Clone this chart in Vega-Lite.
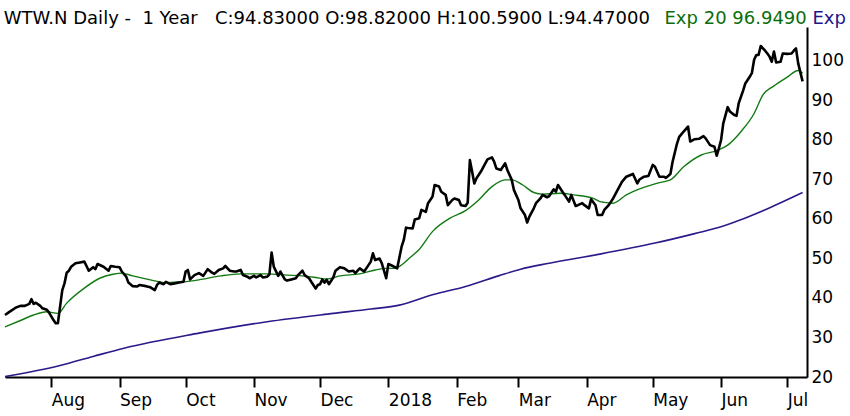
{
  "$schema": "https://vega.github.io/schema/vega-lite/v6.json",
  "autosize": "none",
  "width": 802,
  "height": 350,
  "padding": {"left": 5, "top": 27, "right": 43, "bottom": 39},
  "background": "white",
  "title": {
    "text": "WTW.N Daily -\u00a0\u00a01 Year\u00a0\u00a0\u00a0C:94.83000 O:98.82000 H:100.5900 L:94.47000",
    "anchor": "start",
    "offset": 0,
    "font": "DejaVu Sans",
    "fontSize": 18,
    "fontWeight": "normal",
    "color": "black",
    "dx": 2,
    "dy": 19
  },
  "config": {
    "view": {"stroke": null},
    "axis": {"labelFont": "DejaVu Sans", "titleFont": "DejaVu Sans"}
  },
  "datasets": {
    "close": [
      {"d": "2017-07-11", "v": 35.7}, {"d": "2017-07-13", "v": 36.5}, {"d": "2017-07-16", "v": 37.6}, {"d": "2017-07-18", "v": 38.0},
      {"d": "2017-07-20", "v": 38.0}, {"d": "2017-07-22", "v": 38.5}, {"d": "2017-07-23", "v": 39.7}, {"d": "2017-07-24", "v": 38.5},
      {"d": "2017-07-25", "v": 38.8}, {"d": "2017-07-27", "v": 38.0}, {"d": "2017-07-28", "v": 37.4}, {"d": "2017-07-30", "v": 37.0},
      {"d": "2017-07-31", "v": 36.3}, {"d": "2017-08-02", "v": 34.4}, {"d": "2017-08-03", "v": 33.6}, {"d": "2017-08-04", "v": 33.6},
      {"d": "2017-08-05", "v": 37.8}, {"d": "2017-08-06", "v": 42.0}, {"d": "2017-08-07", "v": 43.7}, {"d": "2017-08-08", "v": 46.4},
      {"d": "2017-08-09", "v": 46.9}, {"d": "2017-08-10", "v": 47.9}, {"d": "2017-08-12", "v": 48.8}, {"d": "2017-08-14", "v": 49.0},
      {"d": "2017-08-16", "v": 49.2}, {"d": "2017-08-17", "v": 48.1}, {"d": "2017-08-18", "v": 46.9}, {"d": "2017-08-20", "v": 47.8},
      {"d": "2017-08-21", "v": 47.3}, {"d": "2017-08-22", "v": 48.6}, {"d": "2017-08-24", "v": 48.1}, {"d": "2017-08-25", "v": 47.8},
      {"d": "2017-08-27", "v": 46.9}, {"d": "2017-08-28", "v": 48.1}, {"d": "2017-08-30", "v": 47.9}, {"d": "2017-09-01", "v": 47.8},
      {"d": "2017-09-02", "v": 46.7}, {"d": "2017-09-04", "v": 45.4}, {"d": "2017-09-05", "v": 43.9}, {"d": "2017-09-07", "v": 43.0},
      {"d": "2017-09-09", "v": 42.9}, {"d": "2017-09-10", "v": 43.3}, {"d": "2017-09-13", "v": 43.0}, {"d": "2017-09-15", "v": 42.7},
      {"d": "2017-09-17", "v": 42.0}, {"d": "2017-09-18", "v": 43.3}, {"d": "2017-09-19", "v": 43.9}, {"d": "2017-09-21", "v": 43.5},
      {"d": "2017-09-22", "v": 44.1}, {"d": "2017-09-24", "v": 43.5}, {"d": "2017-09-26", "v": 43.7}, {"d": "2017-09-28", "v": 43.9},
      {"d": "2017-09-30", "v": 44.1}, {"d": "2017-10-01", "v": 46.7}, {"d": "2017-10-02", "v": 47.1}, {"d": "2017-10-03", "v": 44.7},
      {"d": "2017-10-05", "v": 45.8}, {"d": "2017-10-07", "v": 46.3}, {"d": "2017-10-09", "v": 45.6}, {"d": "2017-10-11", "v": 47.3},
      {"d": "2017-10-13", "v": 46.4}, {"d": "2017-10-14", "v": 46.1}, {"d": "2017-10-16", "v": 47.1}, {"d": "2017-10-18", "v": 47.5},
      {"d": "2017-10-19", "v": 48.1}, {"d": "2017-10-21", "v": 46.9}, {"d": "2017-10-23", "v": 46.7}, {"d": "2017-10-24", "v": 46.7},
      {"d": "2017-10-26", "v": 47.1}, {"d": "2017-10-27", "v": 45.8}, {"d": "2017-10-29", "v": 45.4}, {"d": "2017-10-30", "v": 45.0},
      {"d": "2017-11-01", "v": 45.6}, {"d": "2017-11-02", "v": 45.2}, {"d": "2017-11-04", "v": 45.8}, {"d": "2017-11-05", "v": 45.2},
      {"d": "2017-11-07", "v": 45.4}, {"d": "2017-11-08", "v": 46.0}, {"d": "2017-11-09", "v": 51.5}, {"d": "2017-11-10", "v": 47.9},
      {"d": "2017-11-12", "v": 45.6}, {"d": "2017-11-13", "v": 46.7}, {"d": "2017-11-15", "v": 44.7}, {"d": "2017-11-16", "v": 44.4},
      {"d": "2017-11-18", "v": 44.7}, {"d": "2017-11-20", "v": 45.0}, {"d": "2017-11-21", "v": 45.8}, {"d": "2017-11-23", "v": 46.9},
      {"d": "2017-11-24", "v": 45.8}, {"d": "2017-11-26", "v": 45.0}, {"d": "2017-11-27", "v": 44.1}, {"d": "2017-11-29", "v": 42.4},
      {"d": "2017-11-30", "v": 43.3}, {"d": "2017-12-01", "v": 43.5}, {"d": "2017-12-02", "v": 44.7}, {"d": "2017-12-03", "v": 43.9},
      {"d": "2017-12-04", "v": 44.6}, {"d": "2017-12-05", "v": 43.5}, {"d": "2017-12-07", "v": 45.2}, {"d": "2017-12-08", "v": 46.9},
      {"d": "2017-12-10", "v": 47.8}, {"d": "2017-12-12", "v": 47.5}, {"d": "2017-12-14", "v": 46.7}, {"d": "2017-12-16", "v": 46.9},
      {"d": "2017-12-17", "v": 46.3}, {"d": "2017-12-19", "v": 47.5}, {"d": "2017-12-21", "v": 46.7}, {"d": "2017-12-22", "v": 47.5},
      {"d": "2017-12-24", "v": 49.2}, {"d": "2017-12-25", "v": 51.3}, {"d": "2017-12-26", "v": 49.6}, {"d": "2017-12-28", "v": 50.0},
      {"d": "2017-12-29", "v": 48.8}, {"d": "2017-12-31", "v": 45.0}, {"d": "2018-01-01", "v": 48.6}, {"d": "2018-01-03", "v": 48.1},
      {"d": "2018-01-05", "v": 47.5}, {"d": "2018-01-07", "v": 53.0}, {"d": "2018-01-08", "v": 54.7}, {"d": "2018-01-09", "v": 57.8},
      {"d": "2018-01-10", "v": 57.7}, {"d": "2018-01-12", "v": 57.6}, {"d": "2018-01-13", "v": 59.9}, {"d": "2018-01-15", "v": 60.2},
      {"d": "2018-01-16", "v": 62.3}, {"d": "2018-01-18", "v": 61.8}, {"d": "2018-01-19", "v": 64.0}, {"d": "2018-01-21", "v": 65.6},
      {"d": "2018-01-22", "v": 68.6}, {"d": "2018-01-24", "v": 68.2}, {"d": "2018-01-25", "v": 66.9}, {"d": "2018-01-27", "v": 66.1},
      {"d": "2018-01-28", "v": 63.5}, {"d": "2018-01-30", "v": 64.8}, {"d": "2018-01-31", "v": 65.2}, {"d": "2018-02-02", "v": 64.8},
      {"d": "2018-02-03", "v": 63.5}, {"d": "2018-02-05", "v": 63.3}, {"d": "2018-02-06", "v": 64.1}, {"d": "2018-02-07", "v": 74.9},
      {"d": "2018-02-08", "v": 72.0}, {"d": "2018-02-09", "v": 69.0}, {"d": "2018-02-10", "v": 70.3}, {"d": "2018-02-12", "v": 72.0},
      {"d": "2018-02-14", "v": 74.1}, {"d": "2018-02-15", "v": 75.1}, {"d": "2018-02-17", "v": 75.6}, {"d": "2018-02-18", "v": 74.5},
      {"d": "2018-02-19", "v": 72.8}, {"d": "2018-02-21", "v": 72.4}, {"d": "2018-02-23", "v": 74.1}, {"d": "2018-02-24", "v": 72.4},
      {"d": "2018-02-26", "v": 69.9}, {"d": "2018-02-27", "v": 67.3}, {"d": "2018-03-01", "v": 64.8}, {"d": "2018-03-02", "v": 62.7},
      {"d": "2018-03-04", "v": 61.0}, {"d": "2018-03-05", "v": 59.1}, {"d": "2018-03-06", "v": 60.6}, {"d": "2018-03-08", "v": 62.7},
      {"d": "2018-03-09", "v": 64.0}, {"d": "2018-03-11", "v": 65.2}, {"d": "2018-03-12", "v": 66.1}, {"d": "2018-03-14", "v": 65.5},
      {"d": "2018-03-15", "v": 65.8}, {"d": "2018-03-17", "v": 67.5}, {"d": "2018-03-18", "v": 66.9}, {"d": "2018-03-19", "v": 68.6},
      {"d": "2018-03-21", "v": 66.9}, {"d": "2018-03-22", "v": 66.1}, {"d": "2018-03-24", "v": 64.4}, {"d": "2018-03-25", "v": 66.1},
      {"d": "2018-03-27", "v": 63.3}, {"d": "2018-03-28", "v": 63.5}, {"d": "2018-03-30", "v": 64.0}, {"d": "2018-03-31", "v": 63.5},
      {"d": "2018-04-02", "v": 62.7}, {"d": "2018-04-03", "v": 65.0}, {"d": "2018-04-05", "v": 63.5}, {"d": "2018-04-06", "v": 61.0},
      {"d": "2018-04-08", "v": 61.0}, {"d": "2018-04-09", "v": 62.3}, {"d": "2018-04-11", "v": 63.5}, {"d": "2018-04-13", "v": 65.2},
      {"d": "2018-04-15", "v": 67.3}, {"d": "2018-04-17", "v": 69.4}, {"d": "2018-04-19", "v": 70.7}, {"d": "2018-04-22", "v": 71.4},
      {"d": "2018-04-24", "v": 69.0}, {"d": "2018-04-25", "v": 70.0}, {"d": "2018-04-27", "v": 70.7}, {"d": "2018-04-29", "v": 70.9},
      {"d": "2018-05-01", "v": 73.7}, {"d": "2018-05-02", "v": 73.2}, {"d": "2018-05-04", "v": 70.7}, {"d": "2018-05-06", "v": 70.7},
      {"d": "2018-05-07", "v": 70.4}, {"d": "2018-05-09", "v": 71.4}, {"d": "2018-05-10", "v": 74.5}, {"d": "2018-05-12", "v": 79.1},
      {"d": "2018-05-13", "v": 80.8}, {"d": "2018-05-15", "v": 82.1}, {"d": "2018-05-17", "v": 83.4}, {"d": "2018-05-18", "v": 79.6},
      {"d": "2018-05-20", "v": 80.2}, {"d": "2018-05-22", "v": 80.3}, {"d": "2018-05-24", "v": 81.0}, {"d": "2018-05-25", "v": 80.4},
      {"d": "2018-05-27", "v": 78.7}, {"d": "2018-05-29", "v": 78.3}, {"d": "2018-05-30", "v": 76.0}, {"d": "2018-05-31", "v": 77.9},
      {"d": "2018-06-01", "v": 80.0}, {"d": "2018-06-02", "v": 84.2}, {"d": "2018-06-04", "v": 88.3}, {"d": "2018-06-05", "v": 87.2},
      {"d": "2018-06-07", "v": 86.3}, {"d": "2018-06-08", "v": 86.1}, {"d": "2018-06-09", "v": 89.3}, {"d": "2018-06-11", "v": 92.5},
      {"d": "2018-06-12", "v": 94.3}, {"d": "2018-06-14", "v": 96.0}, {"d": "2018-06-15", "v": 97.0}, {"d": "2018-06-16", "v": 100.3},
      {"d": "2018-06-17", "v": 101.5}, {"d": "2018-06-18", "v": 101.5}, {"d": "2018-06-19", "v": 103.8}, {"d": "2018-06-21", "v": 102.6},
      {"d": "2018-06-22", "v": 101.9}, {"d": "2018-06-23", "v": 101.1}, {"d": "2018-06-24", "v": 99.8}, {"d": "2018-06-25", "v": 102.4},
      {"d": "2018-06-26", "v": 99.6}, {"d": "2018-06-28", "v": 99.8}, {"d": "2018-06-29", "v": 101.9}, {"d": "2018-07-01", "v": 101.8},
      {"d": "2018-07-03", "v": 101.9}, {"d": "2018-07-04", "v": 102.6}, {"d": "2018-07-05", "v": 103.2}, {"d": "2018-07-06", "v": 99.4},
      {"d": "2018-07-08", "v": 94.83}
    ],
    "ema20": [
      {"d": "2017-07-11", "v": 32.7}, {"d": "2017-07-18", "v": 34.3}, {"d": "2017-07-24", "v": 35.7}, {"d": "2017-07-30", "v": 36.5},
      {"d": "2017-08-04", "v": 36.1}, {"d": "2017-08-08", "v": 38.7}, {"d": "2017-08-16", "v": 42.5}, {"d": "2017-08-23", "v": 45.0},
      {"d": "2017-08-29", "v": 46.0}, {"d": "2017-09-02", "v": 46.3}, {"d": "2017-09-07", "v": 45.6}, {"d": "2017-09-15", "v": 44.6},
      {"d": "2017-09-22", "v": 43.9}, {"d": "2017-09-30", "v": 44.1}, {"d": "2017-10-07", "v": 44.6}, {"d": "2017-10-17", "v": 45.6},
      {"d": "2017-10-26", "v": 46.1}, {"d": "2017-11-07", "v": 46.1}, {"d": "2017-11-16", "v": 45.8}, {"d": "2017-11-23", "v": 45.6},
      {"d": "2017-11-29", "v": 45.2}, {"d": "2017-12-04", "v": 44.8}, {"d": "2017-12-10", "v": 45.6}, {"d": "2017-12-19", "v": 46.1},
      {"d": "2017-12-26", "v": 47.1}, {"d": "2017-12-31", "v": 47.5}, {"d": "2018-01-04", "v": 47.5}, {"d": "2018-01-08", "v": 48.8},
      {"d": "2018-01-11", "v": 50.3}, {"d": "2018-01-15", "v": 52.3}, {"d": "2018-01-21", "v": 56.8}, {"d": "2018-01-29", "v": 60.2},
      {"d": "2018-02-05", "v": 62.1}, {"d": "2018-02-11", "v": 64.8}, {"d": "2018-02-17", "v": 68.2}, {"d": "2018-02-23", "v": 69.9},
      {"d": "2018-02-26", "v": 69.9}, {"d": "2018-03-03", "v": 68.6}, {"d": "2018-03-08", "v": 66.7}, {"d": "2018-03-12", "v": 66.3},
      {"d": "2018-03-20", "v": 66.5}, {"d": "2018-03-26", "v": 66.1}, {"d": "2018-04-04", "v": 65.2}, {"d": "2018-04-07", "v": 64.4},
      {"d": "2018-04-09", "v": 64.2}, {"d": "2018-04-13", "v": 64.0}, {"d": "2018-04-19", "v": 66.1}, {"d": "2018-04-26", "v": 67.8},
      {"d": "2018-05-04", "v": 69.2}, {"d": "2018-05-09", "v": 69.9}, {"d": "2018-05-15", "v": 73.2}, {"d": "2018-05-23", "v": 76.2},
      {"d": "2018-05-30", "v": 77.3}, {"d": "2018-06-04", "v": 78.7}, {"d": "2018-06-10", "v": 82.1}, {"d": "2018-06-16", "v": 86.7},
      {"d": "2018-06-20", "v": 91.4}, {"d": "2018-06-25", "v": 93.7}, {"d": "2018-07-01", "v": 95.9}, {"d": "2018-07-06", "v": 97.6},
      {"d": "2018-07-08", "v": 96.95}
    ],
    "expLong": [
      {"d": "2017-07-11", "v": 20.1}, {"d": "2017-08-05", "v": 22.9}, {"d": "2017-08-20", "v": 25.2}, {"d": "2017-09-03", "v": 27.3},
      {"d": "2017-10-07", "v": 31.1}, {"d": "2017-11-07", "v": 34.0}, {"d": "2017-12-07", "v": 36.1}, {"d": "2017-12-24", "v": 37.2},
      {"d": "2018-01-06", "v": 38.2}, {"d": "2018-01-21", "v": 40.8}, {"d": "2018-02-05", "v": 42.9}, {"d": "2018-02-20", "v": 45.6},
      {"d": "2018-03-02", "v": 47.3}, {"d": "2018-03-15", "v": 48.8}, {"d": "2018-04-07", "v": 51.1}, {"d": "2018-05-02", "v": 53.9},
      {"d": "2018-05-20", "v": 56.3}, {"d": "2018-06-02", "v": 58.2}, {"d": "2018-06-09", "v": 59.6}, {"d": "2018-06-20", "v": 62.1},
      {"d": "2018-07-08", "v": 66.7}
    ]
  },
  "resolve": {"axis": {"x": "independent", "y": "independent"}},
  "layer": [
    {
      "data": {"name": "expLong"},
      "mark": {"type": "line", "color": "#2a1a8a", "strokeWidth": 1.6, "interpolate": "monotone"},
      "encoding": {
        "x": {
          "field": "d", "type": "temporal",
          "scale": {"type": "utc", "nice": false, "domain": [{"year": 2017, "month": 7, "date": 11, "utc": true}, {"year": 2018, "month": 7, "date": 10, "utc": true}]},
          "axis": {
            "orient": "bottom",
            "values": [
              {"year": 2017, "month": 8, "date": 1, "utc": true}, {"year": 2017, "month": 9, "date": 1, "utc": true},
              {"year": 2017, "month": 10, "date": 1, "utc": true}, {"year": 2017, "month": 11, "date": 1, "utc": true},
              {"year": 2017, "month": 12, "date": 1, "utc": true}, {"year": 2018, "month": 1, "date": 1, "utc": true},
              {"year": 2018, "month": 2, "date": 1, "utc": true}, {"year": 2018, "month": 3, "date": 1, "utc": true},
              {"year": 2018, "month": 4, "date": 1, "utc": true}, {"year": 2018, "month": 5, "date": 1, "utc": true},
              {"year": 2018, "month": 6, "date": 1, "utc": true}, {"year": 2018, "month": 7, "date": 1, "utc": true}
            ],
            "labelExpr": "utcFormat(datum.value, '%m') == '01' ? utcFormat(datum.value, '%Y') : utcFormat(datum.value, '%b')",
            "title": null,
            "grid": false,
            "tickSize": 10, "tickWidth": 2, "tickColor": "black",
            "domainColor": "black", "domainWidth": 2,
            "labelAlign": "left", "labelBaseline": "top", "labelPadding": 5,
            "labelFontSize": 17, "labelColor": "black",
            "labelFlush": false, "labelOverlap": false
          }
        },
        "y": {
          "field": "v", "type": "quantitative",
          "scale": {"domain": [20, 108.6], "nice": false, "zero": false},
          "axis": {
            "orient": "right",
            "values": [20, 30, 40, 50, 60, 70, 80, 90, 100],
            "ticks": false, "grid": false,
            "domainColor": "black", "domainWidth": 2,
            "labelAlign": "left", "labelBaseline": "middle", "labelPadding": 4,
            "labelFontSize": 17, "labelColor": "black", "labelFlush": false,
            "title": "Exp", "titleAngle": 0, "titleX": 5, "titleY": -3.7,
            "titleAlign": "left", "titleBaseline": "alphabetic",
            "titleColor": "#24148a", "titleFontSize": 18, "titleFontWeight": "normal"
          }
        }
      }
    },
    {
      "data": {"name": "ema20"},
      "mark": {"type": "line", "color": "#137a13", "strokeWidth": 1.4, "interpolate": "monotone"},
      "encoding": {
        "x": {
          "field": "d", "type": "temporal",
          "scale": {"type": "utc", "nice": false, "domain": [{"year": 2017, "month": 7, "date": 11, "utc": true}, {"year": 2018, "month": 7, "date": 10, "utc": true}]},
          "axis": {
            "orient": "top", "labels": false, "ticks": false, "domain": false, "grid": false,
            "title": "Exp 20 96.9490", "titleX": 659, "titleY": -3.7,
            "titleAlign": "left", "titleBaseline": "alphabetic",
            "titleColor": "#0a6e0a", "titleFontSize": 18, "titleFontWeight": "normal"
          }
        },
        "y": {"field": "v", "type": "quantitative", "scale": {"domain": [20, 108.6], "nice": false, "zero": false}, "axis": null}
      }
    },
    {
      "data": {"name": "close"},
      "mark": {"type": "line", "color": "black", "strokeWidth": 2.6, "strokeJoin": "round"},
      "encoding": {
        "x": {
          "field": "d", "type": "temporal",
          "scale": {"type": "utc", "nice": false, "domain": [{"year": 2017, "month": 7, "date": 11, "utc": true}, {"year": 2018, "month": 7, "date": 10, "utc": true}]},
          "axis": null
        },
        "y": {"field": "v", "type": "quantitative", "scale": {"domain": [20, 108.6], "nice": false, "zero": false}, "axis": null}
      }
    }
  ]
}
